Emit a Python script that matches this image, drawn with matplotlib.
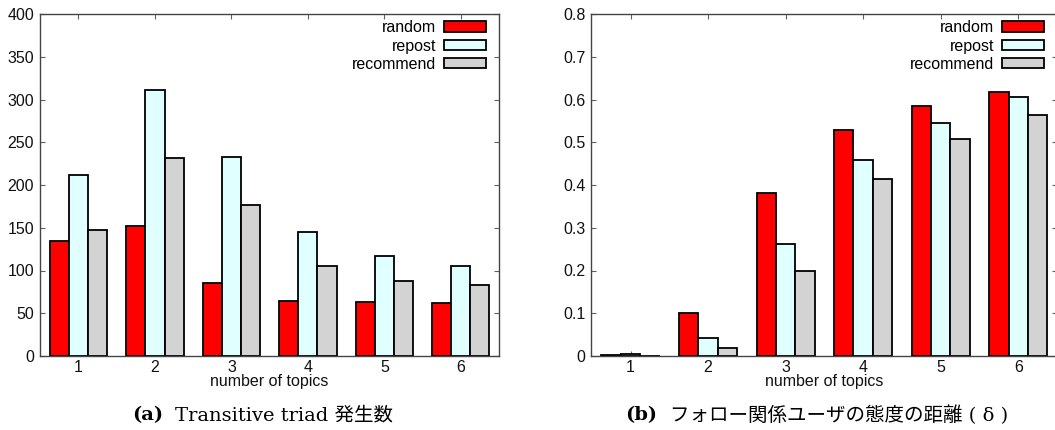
import matplotlib
matplotlib.use("Agg")
import matplotlib.pyplot as plt
import numpy as np

topics = [1, 2, 3, 4, 5, 6]
series = ["random", "repost", "recommend"]
colors = ["#ff0000", "#e0ffff", "#d3d3d3"]

triad_random = [134, 152, 85, 64, 63, 62]
triad_repost = [212, 311, 233, 145, 117, 105]
triad_recommend = [147, 232, 177, 105, 88, 83]

dist_random = [0.002, 0.101, 0.382, 0.528, 0.584, 0.618]
dist_repost = [0.004, 0.043, 0.262, 0.458, 0.546, 0.606]
dist_recommend = [0.001, 0.018, 0.198, 0.414, 0.507, 0.563]

a_yticks = [0, 50, 100, 150, 200, 250, 300, 350, 400]
b_yticks = [0, 0.1, 0.2, 0.3, 0.4, 0.5, 0.6, 0.7, 0.8]

plt.rcParams['font.family'] = ['Liberation Sans', 'DejaVu Sans']

W, H = 1055, 430
fig = plt.figure(figsize=(W / 100, H / 100), dpi=100)

def px_axes(x0, x1, y0, y1):
    return fig.add_axes([x0 / W, 1 - y1 / H, (x1 - x0) / W, (y1 - y0) / H])

ax_a = px_axes(39.5, 499, 14, 356)
ax_b = px_axes(591, 1057, 14, 356)

bw = 0.25
offsets = [-bw, 0, bw]

def draw(ax, data, yticks, ylim, fmt):
    x = np.array(topics, dtype=float)
    for vals, off, col, lab in zip(data, offsets, colors, series):
        ax.bar(x + off, vals, width=bw, color=col, edgecolor="black",
               linewidth=1.3, label=lab, zorder=2)
    ax.set_xlim(0.49, 6.5)
    ax.set_ylim(*ylim)
    ax.set_xticks(topics)
    ax.set_xticklabels([str(t) for t in topics])
    ax.set_yticks(yticks)
    ax.set_yticklabels([fmt(v) for v in yticks])
    ax.tick_params(direction="in", length=3.5, width=0.8, color="#606060",
                   top=True, right=True, labelsize=11.5, pad=4, labelcolor="#111111")
    ax.tick_params(axis="x", pad=3)
    for s in ax.spines.values():
        s.set_color("#444444")
        s.set_linewidth(1.0)
    ax.set_xlabel("number of topics", fontsize=11.5, labelpad=-1, color="#111111")
    leg = ax.legend(loc="upper right", bbox_to_anchor=(0.985, 1.0),
                    frameon=False, markerfirst=False,
                    fontsize=11.5, handlelength=2.6, handleheight=0.65,
                    labelspacing=0.2, handletextpad=0.5,
                    borderaxespad=0.2, borderpad=0.2)
    for h in leg.legend_handles:
        h.set_linewidth(1.3)

draw(ax_a, [triad_random, triad_repost, triad_recommend], a_yticks, (0, 400),
     lambda v: f"{v:d}")
draw(ax_b, [dist_random, dist_repost, dist_recommend], b_yticks, (0, 0.8),
     lambda v: "0" if v == 0 else f"{v:.1f}")

cap_font = ['DejaVu Serif', 'Noto Sans CJK JP']
fig.text(163 / W, 1 - 415 / H, "(a)", ha="right", va="center",
         fontsize=14, fontweight="bold", family=cap_font)
fig.text(175 / W, 1 - 415 / H, "Transitive triad 発生数", ha="left",
         va="center", fontsize=14, family=cap_font)
fig.text(657 / W, 1 - 415 / H, "(b)", ha="right", va="center",
         fontsize=14, fontweight="bold", family=cap_font)
fig.text(670 / W, 1 - 415 / H, "フォロー関係ユーザの態度の距離 ( δ )",
         ha="left", va="center", fontsize=14, family=cap_font)

fig.savefig("out.png", dpi=100)
